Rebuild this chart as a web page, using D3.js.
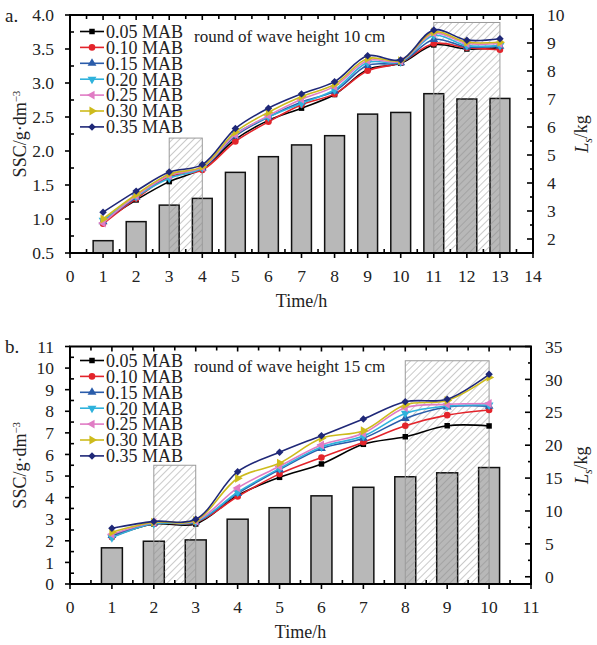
<!DOCTYPE html>
<html>
<head>
<meta charset="utf-8">
<script src="https://cdn.jsdelivr.net/npm/d3@7"></script>
<style>
  body { margin: 0; background: #fff; }
  svg { font-family: "Liberation Serif", "Times New Roman", serif; }
</style>
</head>
<body>
<svg id="chart" width="597" height="645"></svg>
<script>
// --- data ---
const seriesNames = ["0.05 MAB", "0.10 MAB", "0.15 MAB", "0.20 MAB", "0.25 MAB", "0.30 MAB", "0.35 MAB"];
const seriesColors = ["#000000", "#e3242b", "#2a5caa", "#2fb2dc", "#e07cc4", "#cdbb1c", "#1f2878"];

const hoursA = [1, 2, 3, 4, 5, 6, 7, 8, 9, 10, 11, 12, 13];
const lsA = [1.94, 2.62, 3.21, 3.45, 4.38, 4.94, 5.36, 5.69, 6.46, 6.52, 7.19, 7.0, 7.02];
const sscA = [
  [0.97, 1.28, 1.55, 1.74, 2.17, 2.45, 2.63, 2.83, 3.20, 3.29, 3.56, 3.50, 3.52],
  [0.93, 1.30, 1.62, 1.72, 2.14, 2.43, 2.68, 2.84, 3.18, 3.30, 3.58, 3.52, 3.49],
  [0.96, 1.32, 1.65, 1.75, 2.22, 2.50, 2.72, 2.88, 3.26, 3.30, 3.64, 3.53, 3.54],
  [0.98, 1.33, 1.60, 1.75, 2.25, 2.50, 2.70, 2.90, 3.30, 3.31, 3.70, 3.55, 3.55],
  [0.94, 1.34, 1.64, 1.76, 2.24, 2.52, 2.76, 2.95, 3.33, 3.32, 3.73, 3.58, 3.58],
  [1.00, 1.36, 1.66, 1.77, 2.28, 2.57, 2.80, 2.98, 3.36, 3.33, 3.75, 3.60, 3.60],
  [1.10, 1.41, 1.69, 1.80, 2.33, 2.63, 2.84, 3.02, 3.40, 3.34, 3.78, 3.63, 3.65]
];
const zonesA = [{ from: 3, to: 4, top: 2.19 }, { from: 11, to: 13, top: 3.89 }];

const hoursB = [1, 2, 3, 4, 5, 6, 7, 8, 9, 10];
const lsB = [4.4, 5.4, 5.6, 8.75, 10.5, 12.3, 13.6, 15.2, 15.8, 16.6];
const sscB = [
  [2.20, 2.78, 2.78, 4.10, 4.94, 5.56, 6.47, 6.82, 7.33, 7.32],
  [2.17, 2.80, 2.85, 4.05, 5.10, 5.86, 6.57, 7.33, 7.82, 8.06],
  [2.25, 2.82, 2.87, 4.20, 5.30, 6.28, 6.75, 7.67, 8.20, 8.24],
  [2.15, 2.80, 2.88, 4.25, 5.35, 6.35, 6.85, 7.90, 8.24, 8.29],
  [2.30, 2.85, 2.92, 4.45, 5.45, 6.44, 6.98, 8.16, 8.32, 8.36],
  [2.40, 2.86, 2.95, 4.90, 5.60, 6.75, 7.10, 8.30, 8.50, 9.57],
  [2.58, 2.90, 3.00, 5.20, 6.10, 6.87, 7.64, 8.44, 8.56, 9.71]
];
const zonesB = [{ from: 2, to: 3, top: 5.5 }, { from: 8, to: 10, top: 10.34 }];

const svg = d3.select("#chart");

// hatch pattern
svg.append("defs").append("pattern")
  .attr("id", "hatch")
  .attr("patternUnits", "userSpaceOnUse")
  .attr("width", 5).attr("height", 5)
  .attr("patternTransform", "rotate(45)")
  .append("line")
  .attr("x1", 0).attr("y1", 0).attr("x2", 0).attr("y2", 5)
  .attr("stroke", "#8a8a8a").attr("stroke-width", 0.9);

// marker shapes: square, circle, up, down, left, right, diamond
const symbolDefs = [
  { type: d3.symbolSquare, size: 30, rot: 0 },
  { type: d3.symbolCircle, size: 34, rot: 0 },
  { type: d3.symbolTriangle, size: 34, rot: 0 },
  { type: d3.symbolTriangle, size: 34, rot: 180 },
  { type: d3.symbolTriangle, size: 34, rot: -90 },
  { type: d3.symbolTriangle, size: 34, rot: 90 },
  { type: d3.symbolSquare, size: 28, rot: 45 }
];

function drawPanel(cfg) {
  const g = svg.append("g");
  const x = d3.scaleLinear().domain(cfg.xDomain).range([70, cfg.right]);
  const yL = d3.scaleLinear().domain(cfg.yLDomain).range([cfg.bottom, cfg.top]);
  const yR = d3.scaleLinear().domain(cfg.yRDomain).range([cfg.bottom, cfg.top]);

  // bars (Ls)
  const bw = x(cfg.barWidth) - x(0);
  g.selectAll(".bar").data(cfg.hours).enter().append("rect")
    .attr("x", d => x(d) - bw / 2)
    .attr("y", (d, i) => yR(cfg.ls[i]))
    .attr("width", bw)
    .attr("height", (d, i) => cfg.bottom - yR(cfg.ls[i]))
    .attr("fill", "#b8b8b8")
    .attr("stroke", "#111").attr("stroke-width", 1.5);

  // hatched zones
  g.selectAll(".zone").data(cfg.zones).enter().append("rect")
    .attr("x", d => x(d.from))
    .attr("y", d => yL(d.top))
    .attr("width", d => x(d.to) - x(d.from))
    .attr("height", d => cfg.bottom - yL(d.top))
    .attr("fill", "url(#hatch)")
    .attr("stroke", "#9a9a9a").attr("stroke-width", 1);

  // lines
  const line = d3.line()
    .x((d, i) => x(cfg.hours[i]))
    .y(d => yL(d))
    .curve(d3.curveCatmullRom.alpha(0.5));

  cfg.ssc.forEach((vals, s) => {
    g.append("path")
      .attr("d", line(vals))
      .attr("fill", "none")
      .attr("stroke", seriesColors[s])
      .attr("stroke-width", 1.6);
    const sym = symbolDefs[s];
    g.selectAll(null).data(vals).enter().append("path")
      .attr("d", d3.symbol().type(sym.type).size(sym.size))
      .attr("transform", (d, i) => `translate(${x(cfg.hours[i])},${yL(d)}) rotate(${sym.rot})`)
      .attr("fill", seriesColors[s]);
  });

  // frame
  g.append("rect")
    .attr("x", 70).attr("y", cfg.top)
    .attr("width", cfg.right - 70).attr("height", cfg.bottom - cfg.top)
    .attr("fill", "none").attr("stroke", "#000").attr("stroke-width", 2);

  // ticks
  const ticks = g.append("g").attr("stroke", "#000").attr("stroke-width", 1.6);
  const xMajor = d3.range(cfg.xDomain[0], cfg.xDomain[1] + 0.001, 1);
  const xMinor = d3.range(cfg.xDomain[0] + 0.5, cfg.xDomain[1], 1);
  xMajor.forEach(v => {
    ticks.append("line").attr("x1", x(v)).attr("x2", x(v)).attr("y1", cfg.bottom).attr("y2", cfg.bottom + 5);
    ticks.append("line").attr("x1", x(v)).attr("x2", x(v)).attr("y1", cfg.top).attr("y2", cfg.top + 5);
  });
  xMinor.forEach(v => {
    ticks.append("line").attr("x1", x(v)).attr("x2", x(v)).attr("y1", cfg.bottom).attr("y2", cfg.bottom - 4);
    ticks.append("line").attr("x1", x(v)).attr("x2", x(v)).attr("y1", cfg.top).attr("y2", cfg.top + 4);
  });
  cfg.yLTicks.forEach(v => {
    ticks.append("line").attr("x1", 70).attr("x2", 65).attr("y1", yL(v)).attr("y2", yL(v));
  });
  cfg.yLMinor.forEach(v => {
    ticks.append("line").attr("x1", 70).attr("x2", 74).attr("y1", yL(v)).attr("y2", yL(v));
  });
  cfg.yRTicks.forEach(v => {
    ticks.append("line").attr("x1", cfg.right).attr("x2", cfg.right - 6).attr("y1", yR(v)).attr("y2", yR(v));
  });
  cfg.yRMinor.forEach(v => {
    ticks.append("line").attr("x1", cfg.right).attr("x2", cfg.right - 3).attr("y1", yR(v)).attr("y2", yR(v));
  });

  // tick labels
  const lab = g.append("g").attr("font-size", 17.5).attr("fill", "#222");
  xMajor.forEach(v => {
    lab.append("text").attr("x", x(v)).attr("y", cfg.bottom + 23).attr("dy", "0.35em")
      .attr("text-anchor", "middle").text(v);
  });
  cfg.yLTicks.forEach(v => {
    lab.append("text").attr("x", 54).attr("y", yL(v)).attr("dy", "0.35em")
      .attr("text-anchor", "end").text(cfg.yLFormat(v));
  });
  cfg.yRTicks.forEach(v => {
    lab.append("text").attr("x", cfg.right + 14).attr("y", yR(v)).attr("dy", "0.35em")
      .attr("text-anchor", "start").text(v);
  });

  // axis titles
  g.append("text").attr("x", (70 + cfg.right) / 2).attr("y", cfg.bottom + 48).attr("dy", "0.35em")
    .attr("text-anchor", "middle").attr("font-size", 18).attr("fill", "#222").text("Time/h");

  const midY = (cfg.top + cfg.bottom) / 2;
  const tl = g.append("text").attr("transform", `translate(20,${midY}) rotate(-90)`)
    .attr("text-anchor", "middle").attr("dy", "0.35em").attr("font-size", 18).attr("fill", "#222");
  tl.append("tspan").text("SSC/g·dm");
  tl.append("tspan").attr("font-size", 11).attr("dy", "-0.6em").text("−3");

  const tr = g.append("text").attr("transform", `translate(582,${midY}) rotate(-90)`)
    .attr("text-anchor", "middle").attr("dy", "0.35em").attr("font-size", 18).attr("fill", "#222");
  tr.append("tspan").attr("font-style", "italic").text("L");
  tr.append("tspan").attr("font-style", "italic").attr("font-size", 12).attr("dy", "0.3em").text("s");
  tr.append("tspan").attr("dy", "-0.3em").text("/kg");

  // panel letter
  g.append("text").attr("x", 5).attr("y", cfg.top).attr("dy", "0.35em")
    .attr("font-size", 19).attr("fill", "#222").text(cfg.letter);

  // legend
  const leg = g.append("g");
  seriesNames.forEach((name, s) => {
    const ly = cfg.top + cfg.legendOffset + s * 15.9;
    leg.append("line").attr("x1", 80).attr("x2", 104).attr("y1", ly).attr("y2", ly)
      .attr("stroke", seriesColors[s]).attr("stroke-width", 1.6);
    const sym = symbolDefs[s];
    leg.append("path")
      .attr("d", d3.symbol().type(sym.type).size(sym.size)())
      .attr("transform", `translate(92,${ly}) rotate(${sym.rot})`)
      .attr("fill", seriesColors[s]);
    leg.append("text").attr("x", 106).attr("y", ly).attr("dy", "0.35em")
      .attr("font-size", 18).attr("fill", "#222").text(name);
  });

  g.append("text").attr("x", 194).attr("y", cfg.top + cfg.noteOffset).attr("dy", "0.35em")
    .attr("font-size", 17).attr("fill", "#222").text(cfg.note);
}

drawPanel({
  letter: "a.", note: "round of wave height 10 cm",
  top: 15, bottom: 253, right: 533,
  xDomain: [0, 14], yLDomain: [0.5, 4.0], yRDomain: [1.5, 10],
  yLTicks: d3.range(0.5, 4.01, 0.5), yLMinor: d3.range(0.75, 4, 0.5),
  yRTicks: d3.range(2, 10.01, 1), yRMinor: d3.range(2.5, 10, 1),
  yLFormat: d3.format(".1f"),
  hours: hoursA, ls: lsA, ssc: sscA, zones: zonesA, barWidth: 0.6,
  legendOffset: 16.5, noteOffset: 21
});

drawPanel({
  letter: "b.", note: "round of wave height 15 cm",
  top: 346.5, bottom: 584, right: 531,
  xDomain: [0, 11], yLDomain: [0, 11], yRDomain: [-1.1, 35],
  yLTicks: d3.range(0, 11.01, 1), yLMinor: d3.range(0.5, 11, 1),
  yRTicks: d3.range(0, 35.01, 5), yRMinor: d3.range(2.5, 35, 5),
  yLFormat: d3.format("d"),
  hours: hoursB, ls: lsB, ssc: sscB, zones: zonesB, barWidth: 0.5,
  legendOffset: 14, noteOffset: 20
});
</script>
</body>
</html>
